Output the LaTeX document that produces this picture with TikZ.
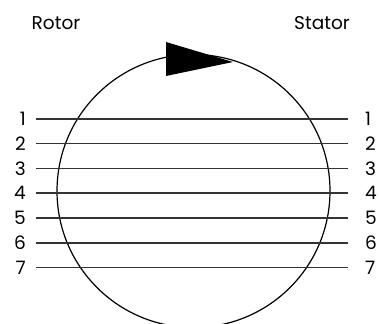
\documentclass[tikz,border=0pt]{standalone}
\usepackage{fontspec}
\setmainfont{Poppins}
\usepackage{tikz}
\usetikzlibrary{positioning}

\begin{document}
\begin{tikzpicture}[
  x=1pt, y=-1pt,
  title/.style={font=\fontsize{18.5}{18.5}\selectfont, inner sep=0pt},
  num/.style={font=\fontsize{18.5}{18.5}\selectfont, inner sep=0pt},
  wire/.style={line width=1.3pt, black!80},
  ring/.style={circle, draw, line width=1.2pt, minimum size=273pt, inner sep=0pt}
]
\useasboundingbox (0,0) rectangle (379,323);
\clip (0,0) rectangle (379,323);
\node[title] (rotor) at (56,23) {Rotor};
\node[title] (stator) at (322,23) {Stator};
\node[ring] (wheel) at (193.5,191) {};
\fill (166,42) -- (233,62) -- (166,76) -- cycle;
\foreach \y [count=\i] in {119,143.5,168.5,193,218,243,267.5}{
  \coordinate (a\i) at (36,\y);
  \coordinate (b\i) at (348,\y);
  \node[num, left=10pt of a\i] (l\i) {\i};
  \node[num, right=17pt of b\i] (r\i) {\i};
  \draw[wire] (a\i) -- (b\i);
}
\end{tikzpicture}
\end{document}
